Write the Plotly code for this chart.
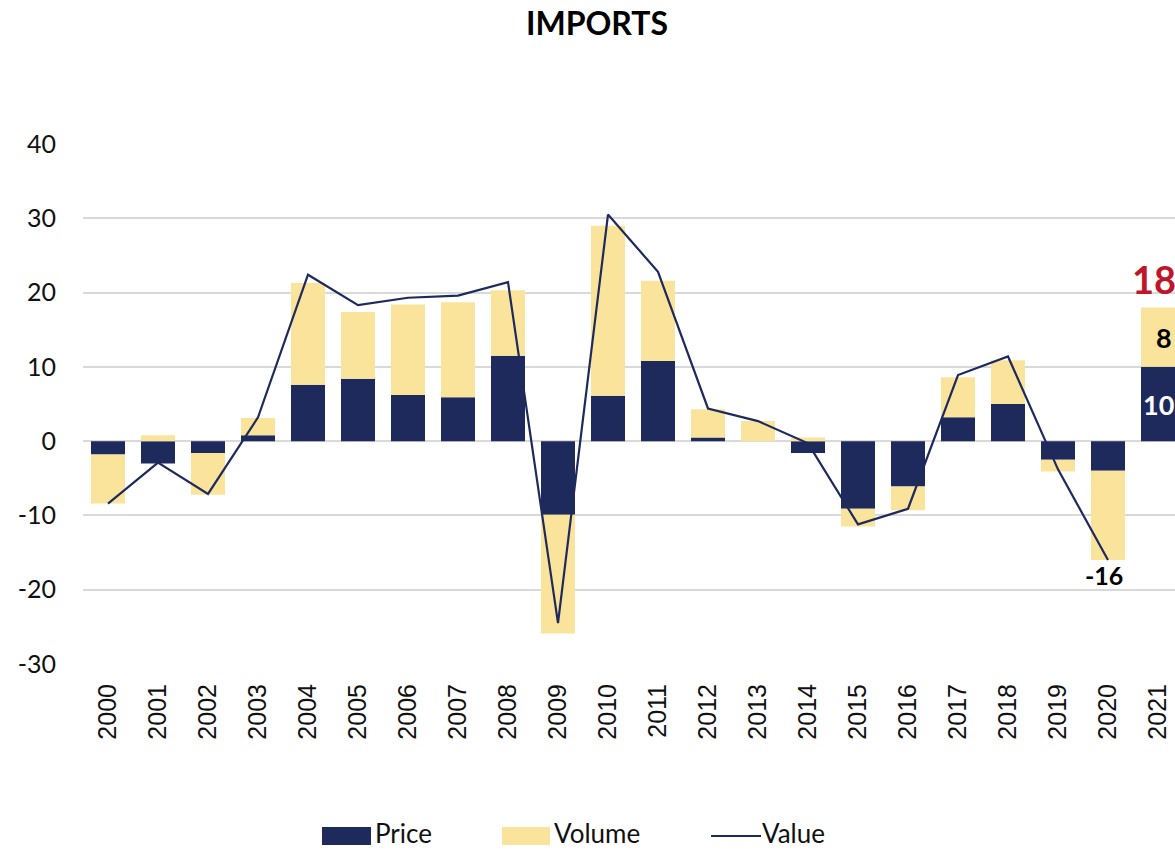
import plotly.graph_objects as go

years = [str(y) for y in range(2000, 2022)]
price = [-1.8, -3.0, -1.6, 0.8, 7.6, 8.4, 6.2, 5.9, 11.5, -9.9, 6.1, 10.8, 0.5, 0.0,
         -1.6, -9.1, -6.1, 3.2, 5.0, -2.5, -4.0, 10.0]
volume = [-6.6, 0.8, -5.6, 2.3, 13.7, 9.0, 12.2, 12.8, 8.8, -16.0, 22.9, 10.8, 3.8, 2.7,
          0.5, -2.4, -3.2, 5.4, 5.9, -1.6, -12.0, 8.0]
value = [-8.4, -2.9, -7.1, 3.2, 22.4, 18.3, 19.3, 19.6, 21.4, -24.5, 30.5, 22.8, 4.4, 2.7,
         -0.3, -11.2, -9.1, 8.9, 11.4, -3.8, -16.0, None]
y_ticks = [-30, -20, -10, 0, 10, 20, 30, 40]
y_ticktext = ["-30", "-20", "-10", "0", "10", "20", "30", "40"]

NAVY = "#1f2a5c"
YELLOW = "#fae49b"
GRID = "#d9d9d9"
FONT = "Lato"

FW, FH = 1175, 850

fig = go.Figure()
fig.add_trace(go.Bar(x=years, y=price, name="Price", marker=dict(color=NAVY, line=dict(width=0))))
fig.add_trace(go.Bar(x=years, y=volume, name="Volume", marker=dict(color=YELLOW, line=dict(width=0))))
fig.add_trace(go.Scatter(x=years, y=value, name="Value", mode="lines",
                         line=dict(color=NAVY, width=2.2)))

# 2021 labels (category index positions)
i_last = len(years) - 1
total_last = price[-1] + volume[-1]
fig.add_annotation(x=i_last, y=total_last, text="<b>%d</b>" % round(total_last), showarrow=False,
                   yanchor="bottom", yshift=3, xshift=-4,
                   font=dict(family=FONT, size=38, color="#c0162b"))
fig.add_annotation(x=i_last, y=price[-1] + volume[-1] / 2, text="<b>%d</b>" % round(volume[-1]),
                   showarrow=False, xshift=6, font=dict(family=FONT, size=27, color="#000000"))
fig.add_annotation(x=i_last, y=price[-1] / 2, text="<b>%d</b>" % round(price[-1]),
                   showarrow=False, xshift=0, font=dict(family=FONT, size=27, color="#ffffff"))
# 2020 value label
fig.add_annotation(x=i_last - 1, y=value[-2], text="<b>%d</b>" % round(value[-2]), showarrow=False,
                   yanchor="top", yshift=2, xshift=-4, font=dict(family=FONT, size=25, color="#000000"))

# custom legend (page pixel coords converted to paper coords)
L, T, W, H = 83, 144, 1092, 520
def px(x):
    return (x - L) / W
def py(y):
    return (T + H - y) / H

legend_y = 833
fig.add_shape(type="rect", xref="paper", yref="paper", x0=px(322), x1=px(371),
              y0=py(845), y1=py(827), fillcolor=NAVY, line=dict(width=0))
fig.add_annotation(xref="paper", yref="paper", x=px(374), y=py(legend_y), text="Price",
                   showarrow=False, xanchor="left", yanchor="middle", borderpad=0,
                   font=dict(family=FONT, size=26, color="#111111"))
fig.add_shape(type="rect", xref="paper", yref="paper", x0=px(502), x1=px(550),
              y0=py(845), y1=py(827), fillcolor=YELLOW, line=dict(width=0))
fig.add_annotation(xref="paper", yref="paper", x=px(553), y=py(legend_y), text="Volume",
                   showarrow=False, xanchor="left", yanchor="middle", borderpad=0,
                   font=dict(family=FONT, size=26, color="#111111"))
fig.add_shape(type="line", xref="paper", yref="paper", x0=px(711), x1=px(761),
              y0=py(836), y1=py(836), line=dict(color=NAVY, width=2.2))
fig.add_annotation(xref="paper", yref="paper", x=px(761), y=py(legend_y), text="Value",
                   showarrow=False, xanchor="left", yanchor="middle", borderpad=0,
                   font=dict(family=FONT, size=26, color="#111111"))

fig.update_layout(
    width=FW, height=FH,
    margin=dict(l=L, r=0, t=T, b=FH - T - H, pad=0),
    paper_bgcolor="white", plot_bgcolor="white",
    barmode="relative", bargap=0.32,
    showlegend=False,
    title=dict(text="<b>IMPORTS</b>", x=597 / FW, xanchor="center",
               y=1 - 24 / FH, yanchor="middle",
               font=dict(family=FONT, size=32, color="#000000")),
    xaxis=dict(type="category", range=[-0.5, 21.34], tickangle=-90, showgrid=False,
               ticks="", ticklabelstandoff=14,
               tickfont=dict(family="Liberation Sans", size=25, color="#111111"),
               showline=False, zeroline=False),
    yaxis=dict(range=[-30, 40], tickvals=y_ticks, ticktext=y_ticktext, showgrid=True,
               gridcolor=GRID, gridwidth=1.6,
               zeroline=True, zerolinecolor=GRID, zerolinewidth=1.6, ticks="",
               ticklabelstandoff=26,
               tickfont=dict(family=FONT, size=25, color="#111111"), showline=False),
)

fig.write_html("out.html", config={"displayModeBar": False},
               post_script="document.body.style.margin='0';document.body.style.overflow='hidden';")
